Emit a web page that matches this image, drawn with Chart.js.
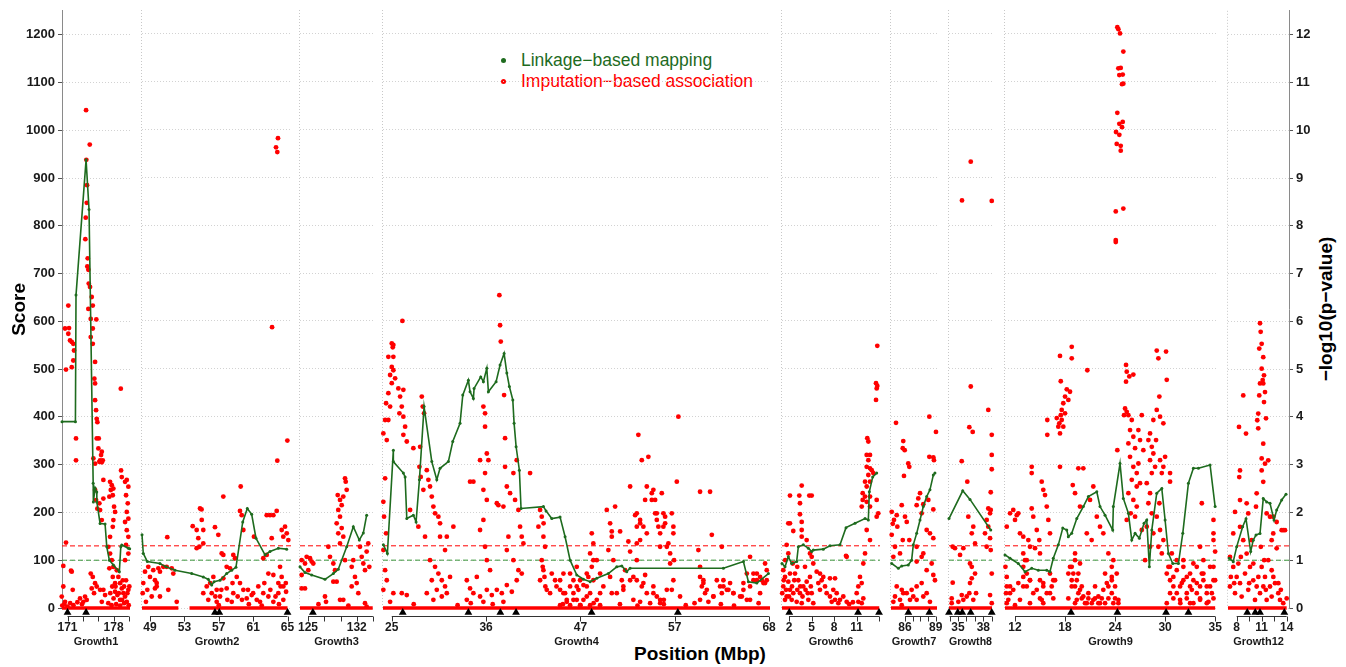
<!DOCTYPE html>
<html>
<head>
<meta charset="utf-8">
<script src="https://cdn.jsdelivr.net/npm/chart.js@4.4.1/dist/chart.umd.min.js"></script>
<style>
  html, body { margin: 0; padding: 0; background: #fff; }
  #wrap { position: relative; width: 1346px; height: 667px; overflow: hidden; font-family: "Liberation Sans", Arial, sans-serif; }
  .panel { position: absolute; top: 0; height: 667px; }
  .legend { position: absolute; left: 501px; top: 50px; font-size: 17.5px; line-height: 21px; }
  .legend div { white-space: nowrap; }
  .legend .dot { display: inline-block; width: 5px; height: 5px; border-radius: 50%; margin-right: 15px; vertical-align: middle; position: relative; top: -1px; }
  .xtitle { position: absolute; left: 580px; width: 240px; top: 643px; text-align: center; font-weight: bold; font-size: 19px; line-height: 22px; }
  .y2title { position: absolute; left: 1326px; top: 309px; transform: translate(-50%, -50%) rotate(-90deg); font-weight: bold; font-size: 19px; white-space: nowrap; }
</style>
</head>
<body>
<div id="wrap">
  <div class="legend">
    <div style="color:#1e6b1e"><span class="dot" style="background:#1e6b1e"></span>Linkage−based mapping</div>
    <div style="color:#ff0000"><span class="dot" style="background:#ff0000"></span>Imputation−based association</div>
  </div>
  <div class="xtitle">Position (Mbp)</div>
  <div class="y2title">−log10(p−value)</div>
</div>
<script>
// ---- data ----
const panelNames = ['Growth1', 'Growth2', 'Growth3', 'Growth4', 'Growth6', 'Growth7', 'Growth8', 'Growth9', 'Growth12'];
const xRanges = [[170.16, 180.5], [48.07, 65.52], [123.85, 134.34], [24.0, 68.1], [1.07, 14.1], [84.63, 89.13], [33.93, 39.03], [10.85, 35.1], [6.96, 14.28]];
const tickValues = [
  [171, 173.33, 175.67, 178, 180.33],
  [49, 53, 57, 61, 65],
  [125, 127.33, 129.67, 132, 134.33],
  [25, 35.75, 46.5, 57.25, 68],
  [2, 5, 8, 11, 14],
  [86, 86.75, 87.5, 88.25, 89],
  [34, 35, 36, 37, 38, 39],
  [12, 17.75, 23.5, 29.25, 35],
  [8, 9.5, 11, 12.5, 14]
];
const tickLabels = [
  ['171', '', '', '178', ''],
  ['49', '53', '57', '61', '65'],
  ['125', '', '', '132', ''],
  ['25', '36', '47', '57', '68'],
  ['2', '5', '8', '11', ''],
  ['86', '', '', '', '89'],
  ['', '35', '', '', '38', ''],
  ['12', '18', '24', '30', '35'],
  ['8', '', '11', '', '14']
];
const scoreTicks = [0, 100, 200, 300, 400, 500, 600, 700, 800, 900, 1000, 1100, 1200];
const pvalTicks = [0, 1, 2, 3, 4, 5, 6, 7, 8, 9, 10, 11, 12];
const linkThreshold = 100;
const assocThreshold = 130;

// positions of black triangles (Mbp)
const markers = [
  [171.0, 173.82],
  [56.56, 57.06, 65.0],
  [125.7],
  [26.25, 33.73, 37.37, 39.16, 47.77, 57.6],
  [2.04, 11.18, 13.97],
  [86.33, 88.38],
  [33.93, 34.97, 35.5, 36.5, 39.0],
  [18.44, 23.77, 29.36, 31.93],
  [9.27, 10.23, 10.8, 13.72]
];

// stretches of SNPs sitting at score 0
const zeroSpans = [
  [[170.16, 180.5]],
  [[48.07, 52.3], [53.6, 65.0]],
  [[123.85, 134.3]],
  [[24.0, 68.1]],
  [[1.07, 14.0]],
  [[84.63, 89.13]],
  [[33.93, 39.03]],
  [[10.85, 35.0]],
  [[6.96, 14.0]]
];

// linkage-based mapping (green)
const g1Link = [[170.16,390],[172.2,390],[172.29,655],[173.82,938],[174.27,834],[174.9,261],[174.93,222],[175.19,251],[175.44,243],[175.46,222],[175.95,177],[176.71,176],[176.97,128],[177.36,100],[177.97,90],[178.88,76],[179.1,128],[179.25,132],[180.25,125],[180.45,124]];
const g2Link = [[48.07,153],[48.22,114],[48.69,97],[50.16,93],[50.86,86],[51.91,79],[53.85,72],[55.2,65],[55.78,60],[56.18,48],[56.45,55],[57.15,58],[57.92,72],[58.51,79],[59.0,85],[59.79,180],[60.32,208],[60.83,196],[61.33,146],[62.38,111],[62.96,118],[63.93,125],[64.9,123]];
const g3Link = [[123.85,86],[124.57,74],[125.53,69],[127.44,60],[128.64,72],[129.35,81],[130.56,128],[131.51,170],[132.37,142],[132.95,157],[133.43,194]];
const g4Link = [[24.04,132],[24.5,114],[25.18,330],[25.18,306],[26.32,282],[26.52,274],[26.71,187],[27.46,194],[27.77,180],[28.15,268],[28.68,421],[29.56,306],[30.13,268],[30.5,292],[31.45,306],[31.95,348],[32.78,386],[33.09,445],[33.73,476],[33.92,452],[34.3,438],[34.38,459],[35.14,483],[35.44,473],[35.83,501],[36.01,452],[36.89,473],[37.34,508],[37.8,532],[38.11,491],[38.4,463],[38.79,435],[38.94,386],[39.17,337],[39.54,288],[39.73,208],[42.28,212],[42.58,203],[43.23,187],[44.18,190],[44.75,149],[45.32,100],[46.08,69],[46.84,60],[47.6,55],[48.36,62],[49.68,72],[50.64,86],[51.21,88],[51.78,76],[52.16,83],[62.79,83],[65.07,97],[65.64,55],[66.6,52],[67.92,72]];
const g6Link = [[1.07,93],[1.47,86],[1.91,107],[2.36,93],[3.02,97],[3.24,128],[3.9,132],[4.57,125],[5.02,118],[5.23,121],[6.56,123],[7.45,130],[8.78,132],[9.58,168],[10.78,177],[12.11,187],[12.55,184],[12.68,243],[13.13,274],[13.66,282]];
const g7Link = [[84.7,93],[85.35,83],[85.68,88],[86.32,90],[86.65,100],[86.81,132],[87.14,156],[87.47,184],[87.79,212],[88.12,233],[88.44,247],[88.77,278],[88.93,282]];
const g8Link = [[33.93,187],[35.56,245],[36.42,227],[38.88,163]];
const g9Link = [[10.85,111],[11.43,104],[12.38,93],[13.15,76],[13.92,83],[14.68,79],[15.65,79],[16.02,76],[16.4,104],[16.98,132],[17.49,167],[17.95,163],[18.13,149],[18.52,156],[19.1,187],[19.85,212],[20.43,233],[21.4,243],[21.77,212],[22.35,194],[23.23,163],[23.3,212],[24.07,302],[24.45,229],[25.03,198],[25.42,142],[25.8,156],[26.29,146],[26.83,177],[27.14,184],[27.44,86],[27.72,163],[28.29,240],[28.87,250],[29.25,184],[29.63,114],[30.13,93],[30.78,93],[31.28,156],[31.93,261],[32.5,292],[33.08,292],[34.42,299],[35.0,212]];
const g12Link = [[7.11,104],[7.59,97],[8.0,128],[8.72,170],[9.12,187],[9.68,118],[9.99,142],[10.32,153],[10.8,156],[11.19,229],[11.6,222],[12.0,219],[12.48,184],[12.8,205],[13.4,226],[13.92,238]];

// imputation-based association (red), score = 100 x -log10(p)
const g1Assoc = [[171.12,633],[170.62,585],[171.23,586],[171.12,574],[171.64,557],[171.38,560],[171.88,553],[171.99,539],[171.88,518],[171.64,504],[170.77,499],[172.29,355],[172.29,309],[170.77,137],[170.36,88],[171.53,78],[171.79,38],[170.36,45],[170.12,24],[170.62,13],[171.64,76],[170.2,5],[170.5,8],[171.0,3],[171.4,10],[171.9,6],[172.5,12],[172.9,20],[173.2,8],[173.4,13],[173.66,24],[173.92,17],
  [173.82,1042],[174.38,970],[173.86,938],[173.97,885],[173.92,848],[173.77,817],[173.71,772],[174.07,732],[174.01,715],[174.17,708],[174.23,679],[174.42,672],[174.68,651],[174.84,633],[174.17,626],[174.53,605],[175.38,604],[174.84,585],[174.53,567],[174.84,553],[175.19,515],[175.08,480],[175.19,470],[175.19,435],[175.34,414],[175.44,396],[175.75,355],[176.21,327],[175.95,309],[176.1,320],[176.21,305],[175.54,389],[175.44,355],[174.93,313],[175.19,302],[175.69,334],[175.84,306],[176.36,309],[176.45,268],[175.19,247],[175.34,226],[175.54,208],[175.95,205],[175.84,219],[176.45,229],[176.21,184],
  [174.53,72],[174.84,65],[175.19,52],[175.44,45],[174.68,41],[175.95,38],[175.03,31],[176.45,38],[176.71,27],[176.21,13],
  [177.47,264],[177.73,257],[177.58,247],[177.88,236],[177.36,233],[177.97,250],[178.08,212],[178.23,201],[177.97,184],[177.88,170],[177.47,149],[177.21,128],[177.47,114],[177.73,100],[177.97,86],[177.36,83],[177.88,65],[178.23,52],[179.14,288],[179.25,274],[179.75,264],[180.01,268],[180.25,254],[179.9,236],[180.16,219],[180.01,201],[180.25,187],[179.75,180],[180.01,163],[180.25,149],[179.9,132],[180.25,114],[179.75,100],[179.1,459],[178.49,79],[178.73,65],[178.99,52],[179.25,41],[179.49,31],[178.58,27],[178.99,17],[179.75,24],[180.25,38],[180.01,13],[179.4,58],[178.23,34],[178.4,8],[179.0,5],[179.6,10],[180.3,6],[177.2,10],[177.7,6],
  [178.0,20],[178.3,45],[178.8,31],[179.3,17],[179.6,45],[179.9,58],[180.1,31],[180.4,45],[177.5,31],[177.8,45]];
const g2Assoc = [[63.89,982],[63.66,963],[63.81,953],[63.2,587],[64.98,350],[63.81,308],[59.55,254],[57.53,233],
  [53.97,171],[54.43,163],[55.02,184],[55.2,163],[54.62,146],[54.74,128],[55.2,135],[54.43,125],[54.82,208],[55.0,206],
  [56.56,169],[56.95,153],[59.47,203],[59.67,194],[59.86,163],[61.1,149],[62.58,194],[62.96,194],[63.35,194],[63.74,203],[64.71,170],[64.91,156],[64.51,149],[65.09,142],[64.32,163],[63.16,146],[62.58,111],[62.18,104],[58.69,111],[58.89,104],[57.34,114],[57.53,111],[57.92,86],[58.31,83],[62.77,72],[63.35,69],[64.13,86],[64.32,65],[63.93,52],[64.51,45],[64.83,34],[51.01,148],
  [48.42,76],[49.0,65],[49.58,58],[49.78,45],[50.16,76],[48.22,52],[48.69,38],[49.58,41],[49.2,24],[50.94,86],[51.53,83],[51.71,72],[50.55,86],[51.13,38],[52.11,13],[50.16,24],[48.8,86],[49.38,79],[49.97,83],[48.15,31],[48.53,13],[49.78,52],
  [55.6,45],[56.18,31],[55.78,17],[56.76,38],[57.15,24],[57.92,41],[58.69,31],[59.47,52],[59.86,38],[60.25,20],[60.83,27],[61.42,17],[62.18,31],[62.77,24],[63.35,13],[63.93,31],[64.51,17],[56.37,65],[57.53,62],[59.09,65],[61.8,13],[58.51,13],[56.76,13],[55.2,31],[60.5,8],[62.0,5],[57.0,6],[64.0,8],
  [56.0,52],[56.6,24],[57.3,38],[58.0,17],[58.6,52],[59.2,24],[59.7,17],[60.4,38],[61.0,31],[61.6,45],[62.3,52],[63.0,38],[63.6,24],[64.2,45],[64.8,52]];
const g3Assoc = [[124.09,100],[124.57,93],[125.04,79],[125.53,97],[125.29,104],[124.09,69],[124.81,107],[125.76,93],[124.57,41],[124.09,41],[127.92,128],[128.16,107],[128.64,93],[128.88,79],[128.64,55],[129.12,55],[127.44,24],[127.59,13],[129.27,236],[129.6,226],[130.07,233],[130.56,247],[130.32,271],[130.42,264],[129.84,215],[129.35,205],[129.6,191],[129.12,177],[129.84,167],[129.35,156],[130.07,149],[129.6,135],[130.32,100],[129.6,17],[130.07,17],[131.51,100],[131.28,86],[131.75,65],[132.0,52],[131.28,45],[132.23,31],[132.47,128],[132.72,107],[132.95,93],[133.19,79],[133.43,118],[133.66,135],[133.81,86],[133.19,10],[133.43,3],[126.5,8],[130.8,5]];
const g4Assoc = [[37.26,654],[37.34,591],[37.42,557],[26.21,600],
  [25.0,553],[25.18,550],[25.11,545],[24.61,525],[25.18,525],[25.0,504],[25.18,497],[24.81,487],[25.38,480],[25.0,470],[24.61,449],[24.35,428],[24.81,421],[24.24,393],[24.61,393],[25.75,459],[26.32,456],[25.95,442],[26.14,421],[26.32,400],[25.87,407],[26.52,379],[26.32,362],[26.71,348],[24.04,365],[24.43,351],[24.24,271],[24.04,222],[24.12,191],[24.35,156],[24.04,121],[24.24,79],[24.43,58],[24.04,38],
  [28.42,442],[28.53,421],[28.68,407],[28.99,288],[29.17,268],[29.36,254],[28.23,337],[28.15,295],[28.3,274],[28.6,247],[29.56,233],[29.74,212],[29.93,198],[30.31,191],[30.5,177],[27.46,334],[27.09,205],[28.03,170],[28.79,149],[30.5,149],
  [29.36,100],[29.93,86],[30.31,72],[30.7,58],[31.07,45],[29.56,58],[30.13,38],[31.27,31],[31.64,65],[28.99,31],[30.7,24],[29.74,17],[26.14,31],[26.71,27],[25.18,31],[24.81,13],[32.02,170],[31.27,149],[31.07,121],
  [33.92,264],[34.3,264],[35.44,421],[35.63,407],[35.63,379],[35.83,323],[36.01,309],[35.06,309],[35.63,282],[35.44,247],[35.83,226],[35.44,184],[35.06,163],[35.63,128],[35.83,100],[36.2,79],
  [36.97,219],[37.72,212],[37.91,295],[38.11,254],[38.48,240],[38.86,282],[39.24,309],[39.05,226],[39.43,205],[39.62,170],[39.81,149],[40.0,135],[38.29,149],[38.11,121],[38.86,100],[39.43,79],[37.91,355],[37.8,445],[37.15,215],
  [33.55,58],[33.92,41],[34.3,31],[34.69,65],[35.06,24],[35.83,38],[36.4,27],[36.97,38],[37.54,31],[38.11,48],[38.68,34],[39.24,58],[39.81,72],[33.55,17],[35.44,13],[37.72,13],[40.76,282],
  [41.9,205],[42.09,191],[41.71,170],[42.28,149],[42.47,128],[42.09,100],[42.28,79],[41.9,58],[42.66,38],[43.23,72],[43.61,58],[43.04,31],
  [44.18,38],[44.75,31],[45.32,45],[45.7,58],[46.27,38],[46.84,48],[47.4,65],[47.79,86],[47.6,114],[47.97,135],[47.79,156],[47.22,24],[46.08,17],[44.94,13],[48.36,100],[48.74,72],[49.11,45],
  [43.77,45],[44.18,58],[44.56,31],[44.94,17],[45.32,72],[45.7,31],[46.08,45],[46.46,58],[46.84,17],[47.22,72],[47.6,31],[47.97,58],[48.36,17],[48.74,31],[44.18,6],[45.32,6],[46.46,6],[47.6,6],[48.74,6],[44.56,72],[46.08,86],[47.22,45],[45.7,17],[47.97,100],[42.3,177],[42.2,86],[42.4,65],[42.5,45],
  [49.5,205],[49.88,177],[50.07,149],[49.68,121],[50.25,100],[50.45,212],[49.88,65],[50.64,31],[51.39,45],
  [50.07,160],[51.02,160],[51.96,139],[52.16,118],[51.59,79],[52.16,58],[52.92,58],[53.49,45],[54.06,31],[51.39,38],[50.07,31],[51.21,58],[52.53,17],[53.3,13],[54.44,10],[53.87,69],[52.92,135],[53.3,177],[53.67,170],[54.06,156],[52.92,198],[53.3,184],[54.63,240],[54.63,226],[55.01,198],[55.2,184],[55.58,156],[55.95,198],[56.15,177],[57.09,156],[56.34,128],[56.72,93],[57.09,58],[56.34,38],[55.2,24],[55.58,10],[54.81,45],[56.0,17],
  [52.16,254],[52.73,194],[52.92,170],[53.1,362],[53.49,309],[54.24,316],[54.06,254],[53.87,226],[53.3,142],[52.92,100],[52.53,65],[53.67,52],[54.81,247],[55.01,226],[55.2,198],[55.38,170],[55.58,128],[55.95,170],[55.77,240],[56.15,191],[54.81,31],[55.58,17],
  [56.91,198],[57.09,170],[56.52,135],[56.72,114],[57.17,100],[57.48,264],[57.66,400],[56.91,38],[57.85,24],
  [60.13,243],[61.27,243],[61.47,153],[59.94,121],[60.13,86],[60.51,58],[60.9,38],[61.65,24],
  [60.13,65],[60.51,52],[60.33,45],[60.7,31],[60.13,17],[62.41,45],[62.79,58],[63.18,38],[63.55,52],[62.61,31],[63.93,31],[64.69,24],[65.46,17],[66.21,72],[66.6,58],[66.97,65],[67.35,52],[67.73,58],[65.83,45],[66.97,31],[67.54,93],[65.07,52],[61.65,24],[61.08,13],
  [62.61,128],[62.04,58],[62.79,45],[63.36,38],[63.93,31],[64.89,24],[65.07,38],[65.46,72],[65.83,107],[66.21,58],[66.6,72],[67.17,58],[67.54,52],[67.73,79],[65.83,17],
  [44.5,8],[46.5,6],[48.0,10],[51.0,8],[53.0,5],[56.0,8],[58.5,6],[59.5,10],[62.5,8],[64.0,5],[66.8,10],[27.5,8],[32.5,6],[34.0,10],[36.5,8]];
const g6Assoc = [[13.74,548],[13.57,470],[13.74,464],[13.66,459],[13.57,435],[12.41,355],[12.55,348],[12.33,320],[12.77,320],[12.55,309],[12.33,295],[12.77,292],[13.0,288],[13.21,282],[12.55,278],[12.11,264],[12.77,264],[12.33,254],[11.8,240],[12.11,233],[12.77,233],[11.8,226],[12.33,222],[11.67,212],[12.77,212],[13.66,191],[12.33,163],[12.77,142],[12.11,114],[11.88,93],[11.44,65],[11.67,52],[11.22,45],[11.0,31],[11.88,20],[11.22,13],[11.67,10],[13.66,226],[13.87,198],
  [3.69,256],[2.13,235],[3.37,235],[4.7,235],[5.02,235],[3.46,219],[3.46,196],[1.91,177],[2.13,177],[2.57,161],[3.69,180],[3.69,163],[3.69,149],[4.35,142],[1.69,132],[1.91,114],[4.79,114],[5.02,107],[5.23,93],[9.58,109],
  [1.24,79],[1.47,65],[1.91,55],[1.24,45],[2.13,38],[2.57,31],[1.69,24],[2.36,17],[3.02,13],[3.46,31],[3.9,45],[4.35,55],[4.79,65],[4.13,86],[2.8,72],[3.24,58],[2.13,72],[1.47,17],[1.1,31],[3.69,10],[4.57,17],[5.02,31],[5.23,10],
  [1.3,58],[1.6,38],[2.0,24],[2.4,45],[2.7,58],[3.1,38],[3.5,45],[3.8,24],[4.2,38],[4.5,31],[4.9,45],[1.5,100],[2.5,93],[3.1,86],
  [5.68,76],[6.12,72],[6.35,58],[6.56,65],[5.9,52],[6.79,45],[6.12,38],[7.45,62],[8.12,62],[9.67,107],
  [7.01,31],[7.45,24],[7.89,38],[8.34,31],[8.78,17],[9.22,24],[9.67,13],[7.68,13],[8.12,17],[8.56,10],[10.0,8],[10.5,12]];
const g7Assoc = [[85.12,387],[88.38,400],[89.03,368],[85.83,349],[85.78,334],[85.97,330],[86.32,302],[86.42,295],[85.9,276],[88.38,316],[88.77,315],[88.83,309],[87.47,240],[87.3,229],[87.14,215],[87.79,217],[87.63,198],[88.77,206],[88.28,226],[84.7,201],[85.19,194],[84.92,184],[84.8,176],[85.25,170],[85.68,215],[86.0,191],[86.17,180],[84.7,153],[85.02,128],[85.51,114],[84.86,107],[85.78,142],[86.42,142],[87.14,128],[87.79,114],[88.44,156],[88.77,146],[88.12,163],[87.14,97],[87.63,107],[88.61,93],[88.12,79],[88.77,69],[88.93,58],[85.19,45],[85.68,38],[86.17,31],[86.65,38],[86.81,24],[87.14,45],[87.63,52],[85.02,24],[85.51,17],[85.83,31],[86.49,17],[87.14,17],[87.79,24],[88.12,31],[88.44,13],[85.68,6],[84.86,13]];
const g8Assoc = [[36.51,933],[35.47,852],[39.0,851],[36.51,463],[38.59,414],[36.34,378],[36.74,368],[39.0,362],[39.0,320],[39.0,290],[35.44,307],[36.1,264],[38.88,242],[38.59,208],[38.88,205],[38.8,198],[38.4,184],[38.59,170],[38.2,156],[38.8,146],[38.4,128],[38.88,121],[36.22,191],[36.81,170],[36.63,156],[37.02,135],[36.42,93],[36.63,86],[37.02,72],[36.63,62],[36.42,52],[36.34,31],[37.14,31],[36.03,24],[36.81,17],[35.44,27],[35.63,17],[34.37,128],[34.64,125],[35.63,125],[35.24,111],[34.37,53],[34.25,20],[35.04,13],[34.25,10],[38.8,27],[39.0,72],[39.0,10]];
const g9Assoc = [[23.76,1214],[23.88,1210],[24.07,1201],[24.45,1163],[23.88,1128],[24.15,1129],[23.99,1114],[24.38,1115],[24.3,1095],[24.45,1096],[23.76,1035],[24.38,1016],[23.99,1012],[24.3,1005],[23.61,995],[23.99,989],[23.69,970],[24.15,966],[24.15,956],[23.58,829],[24.45,835],[23.58,769],[23.58,765],
  [18.52,546],[18.52,522],[17.17,527],[17.26,474],[17.95,457],[18.32,452],[17.75,442],[18.13,435],[17.55,428],[17.37,414],[17.75,407],[17.37,393],[17.09,386],[16.98,379],[17.55,379],[17.17,365],[17.26,403],[16.8,397],[15.71,393],[15.71,362],[17.17,295],[13.92,295],[13.92,282],[20.31,497],[19.28,292],[19.85,292],[18.64,257],[23.76,330],
  [24.76,508],[24.84,494],[25.14,484],[24.76,473],[25.6,488],[24.65,417],[24.84,410],[25.03,403],[24.53,403],[25.42,393],[25.22,372],[25.6,358],[25.03,344],[25.8,334],[25.22,316],[25.6,295],[25.99,282],[25.42,268],[25.99,254],[25.03,240],[25.6,226],[25.3,198],[25.8,191],[24.84,184],[26.57,403],[26.18,372],[26.37,351],[26.75,330],[26.18,302],[26.37,261],[25.99,212],[26.57,163],
  [28.29,538],[28.48,522],[29.36,536],[29.44,477],[28.59,442],[28.29,414],[27.9,393],[28.21,351],[27.52,365],[27.33,351],[27.72,337],[27.9,323],[27.52,309],[28.1,295],[27.72,282],[28.67,309],[29.05,295],[28.87,282],[29.25,316],[28.67,400],[29.05,386],[27.14,261],[27.52,240],[27.33,219],[27.72,198],[27.14,170],[27.9,156],[27.52,128],[26.95,100],
  [11.05,170],[11.43,198],[11.8,205],[12.2,194],[12.38,198],[12.0,184],[15.07,264],[15.25,247],[15.45,236],[15.65,212],[15.83,184],[16.02,156],[13.92,208],[14.1,191],[14.5,163],[14.79,142],[14.3,125],[14.87,114],[13.53,142],[13.15,100],[12.95,149],[12.57,156],
  [10.9,86],[11.05,65],[11.43,45],[10.97,31],[11.23,17],[11.8,38],[12.38,52],[12.95,65],[13.35,45],[13.72,58],[14.1,31],[14.5,38],[15.07,17],[15.65,31],[16.22,45],[16.6,58],[12.57,17],[13.72,10],[15.25,52],[12.0,6],
  [11.05,45],[11.43,31],[12.95,86],[13.35,72],[13.72,58],[12.95,45],[14.87,58],[15.25,45],[16.02,72],[16.4,58],[16.02,31],[11.05,10],[14.87,20],[16.4,20],[15.25,10],[13.35,100],[12.95,114],[13.72,128],
  [18.32,86],[18.7,72],[19.1,58],[18.52,45],[19.47,38],[19.85,24],[20.43,31],[21.0,17],[21.58,24],[22.15,38],[22.55,52],[23.12,65],[23.5,45],[23.88,17],[19.1,17],[21.77,10],[20.25,10],[23.3,10],[18.9,114],[19.47,93],
  [18.13,72],[18.52,58],[18.9,45],[19.28,31],[18.13,20],[18.9,10],[19.67,20],[20.05,10],[20.43,20],[20.82,10],[21.2,20],[21.58,10],[21.97,20],[22.35,10],[22.73,20],[23.12,31],[23.5,20],[23.88,10],[18.52,86],[19.28,72],[18.9,100],[22.73,45],[23.12,58],[22.35,72],[19.67,45],[21.2,45],
  [18.9,240],[19.47,212],[20.25,156],[20.81,142],[21.4,191],[21.77,170],[22.15,156],[20.62,226],[21.0,254],[22.73,114],[23.3,100],[23.69,72],[23.12,86],
  [29.63,86],[30.2,65],[30.59,79],[31.17,52],[31.74,65],[32.32,38],[32.89,52],[33.47,72],[34.04,45],[34.62,31],[35.0,58],[29.82,31],[30.97,17],[32.12,10],[33.27,17],[34.23,13],[31.35,100],[32.5,93],[33.65,100],[34.81,86],[30.02,114],[33.27,128],[34.81,142],[33.47,219],[34.81,184],[34.81,156],[35.0,118],[29.82,282],[29.82,264],[28.59,219],[28.29,191],[28.67,163],[29.05,142],[28.48,128],[28.87,114],
  [29.44,72],[29.82,58],[30.2,45],[30.59,31],[30.97,45],[31.35,58],[31.74,31],[32.12,45],[32.5,58],[32.89,31],[33.27,45],[33.65,58],[34.04,31],[34.42,45],[34.81,58],[29.82,86],[30.59,100],[31.35,86],[32.12,72],[32.89,86],[33.65,72],[34.42,86],[30.2,20],[31.0,10],[31.74,20],[32.5,10],[33.27,20],[34.04,10],[34.81,20],[29.44,10]];
const g12Assoc = [[10.8,596],[10.88,578],[11.0,553],[10.71,543],[11.19,525],[11.0,501],[11.28,487],[11.12,477],[11.19,470],[11.4,452],[10.8,470],[10.71,445],[11.28,431],[11.52,397],[10.59,407],[10.47,393],[10.59,376],[11.19,344],[11.0,313],[11.4,302],[11.79,309],[11.0,288],[11.19,264],[8.79,445],[8.28,379],[9.12,365],[8.4,288],[8.31,274],[8.4,226],[7.8,201],[9.2,219],[9.39,198],[10.4,240],[10.32,212],[11.6,198],[12.0,191],[12.39,191],[12.8,180],[13.4,163],[12.39,156],[12.2,142],[12.8,125],[13.8,163],[13.59,163],
  [7.2,107],[7.59,86],[8.0,65],[8.4,52],[9.0,72],[9.6,86],[9.99,58],[10.4,45],[11.0,86],[11.4,65],[11.79,100],[12.2,79],[12.6,52],[12.99,31],[7.2,45],[7.8,31],[8.6,24],[9.39,38],[10.2,17],[10.8,31],[11.6,17],[12.2,24],[13.2,17],[13.59,10],[14.0,20],[9.2,114],[8.79,142],[9.8,142],[7.59,156],[8.4,170],
  [7.3,65],[7.7,52],[8.2,93],[8.5,107],[9.5,52],[10.0,93],[10.6,65],[11.2,45],[11.5,38],[12.0,45],[12.4,65],[13.0,52],[13.3,38],[10.9,128],[11.3,100]];

const linkData = [g1Link, g2Link, g3Link, g4Link, g6Link, g7Link, g8Link, g9Link, g12Link];
const assocData = [g1Assoc, g2Assoc, g3Assoc, g4Assoc, g6Assoc, g7Assoc, g8Assoc, g9Assoc, g12Assoc];

// ---- layout ----
const W = 1346, H = 667;
const PLOT_TOP = 10, AXIS_H = 59, LEFT_AXIS_W = 62, RIGHT_AXIS_W = 57, SIDE = 24;
const panelBox = [[62, 130], [142, 292], [300, 373], [383, 770], [782, 880], [891, 937], [949, 992], [1005, 1216], [1228, 1289]];
const MARK_Y = -9.4;   // triangles sit just under the zero line

const RED = '#ff0000', GREEN = '#1e6b1e', DASH_GREEN = '#3a953a';
const FONT = "'Liberation Sans', Arial, Helvetica, sans-serif";
Chart.defaults.font.family = FONT;
Chart.defaults.color = '#1a1a1a';

const panelFrame = {
  id: 'panelFrame',
  beforeDatasetsDraw(chart, args, opts) {
    if (!opts.leftRule) return;
    const { ctx, chartArea } = chart;
    ctx.save();
    ctx.strokeStyle = '#c8c8c8';
    ctx.lineWidth = 1;
    ctx.setLineDash([1, 2]);
    ctx.beginPath();
    ctx.moveTo(chartArea.left - 0.5, chartArea.top);
    ctx.lineTo(chartArea.left - 0.5, chartArea.bottom);
    ctx.stroke();
    ctx.restore();
  },
  afterDraw(chart) {
    const { ctx, chartArea } = chart;
    const sx = chart.scales.x;
    const px = sx.ticks.map(t => sx.getPixelForValue(t.value));
    const y0 = Math.round(chartArea.bottom + 8) + 0.5;
    ctx.save();
    ctx.strokeStyle = '#333';
    ctx.lineWidth = 1;
    ctx.beginPath();
    ctx.moveTo(px[0], y0);
    ctx.lineTo(px[px.length - 1], y0);
    px.forEach(x => { ctx.moveTo(Math.round(x) + 0.5, y0); ctx.lineTo(Math.round(x) + 0.5, y0 + 5); });
    ctx.stroke();
    ctx.restore();
  }
};

const wrap = document.getElementById('wrap');

panelNames.forEach((name, i) => {
  const first = i === 0;
  const last = i === panelNames.length - 1;
  const [bl, br] = panelBox[i];
  const left = first ? 0 : bl - SIDE;
  const right = last ? W : br + SIDE;
  const width = right - left;

  const div = document.createElement('div');
  div.className = 'panel';
  div.style.left = left + 'px';
  div.style.width = width + 'px';
  const cv = document.createElement('canvas');
  cv.width = width;
  cv.height = H;
  div.appendChild(cv);
  wrap.appendChild(div);

  const [xmin, xmax] = xRanges[i];
  const band = [];
  zeroSpans[i].forEach(([a, b]) => { band.push([a, 0], [b, 0], [b, null]); });

  const scales = {
    x: {
      type: 'linear',
      position: 'bottom',
      min: xmin,
      max: xmax,
      afterBuildTicks: s => { s.ticks = tickValues[i].map(v => ({ value: v })); },
      afterFit: s => { s.height = AXIS_H; },
      border: { display: false },
      grid: { display: false, drawTicks: false },
      ticks: {
        autoSkip: false,
        maxRotation: 0,
        padding: 12,
        color: '#1a1a1a',
        font: { size: 12, weight: 'bold' },
        callback: (v, idx) => tickLabels[i][idx]
      },
      title: {
        display: true,
        text: name,
        color: '#1a1a1a',
        font: { size: 11, weight: 'bold' },
        padding: { top: 0, bottom: 18 }
      }
    },
    y: {
      type: 'linear',
      position: 'left',
      min: 0,
      max: 1250,
      afterBuildTicks: s => { s.ticks = scoreTicks.map(v => ({ value: v })); },
      afterFit: s => { s.width = first ? LEFT_AXIS_W : 0; },
      border: { display: first, color: '#8a8a8a', width: 1, dash: [1, 2] },
      grid: { color: '#d2d2d2', lineWidth: 1, drawTicks: first, tickLength: 4, tickColor: '#555', tickBorderDash: [] },
      ticks: { display: first, padding: 3, color: '#1a1a1a', font: { size: 13, weight: 'bold' }, callback: v => String(v) },
      title: { display: first, text: 'Score', color: '#000', font: { size: 19, weight: 'bold' }, padding: { top: 8 } }
    }
  };
  if (last) {
    scales.y2 = {
      type: 'linear',
      position: 'right',
      min: 0,
      max: 12.5,
      afterBuildTicks: s => { s.ticks = pvalTicks.map(v => ({ value: v })); },
      afterFit: s => { s.width = RIGHT_AXIS_W; },
      border: { display: true, color: '#8a8a8a', width: 1 },
      grid: { drawOnChartArea: false, drawTicks: true, tickLength: 4, tickColor: '#555' },
      ticks: { padding: 3, color: '#1a1a1a', font: { size: 13, weight: 'bold' }, callback: v => String(v) }
    };
  }

  new Chart(cv, {
    type: 'scatter',
    data: {
      datasets: [
        {
          label: 'Markers',
          data: markers[i].map(m => [m, MARK_Y]),
          pointStyle: 'triangle',
          pointRadius: 4.5,
          pointBackgroundColor: '#000',
          pointBorderColor: '#000',
          pointBorderWidth: 0,
          showLine: false,
          clip: false
        },
        {
          label: 'Linkage−based mapping',
          data: linkData[i],
          showLine: true,
          borderColor: GREEN,
          borderWidth: 1.6,
          pointRadius: 1.5,
          pointBackgroundColor: GREEN,
          pointBorderWidth: 0,
          clip: false
        },
        {
          label: 'Imputation−based association',
          data: assocData[i],
          showLine: false,
          pointRadius: 2.4,
          pointBackgroundColor: RED,
          pointBorderWidth: 0,
          clip: false
        },
        {
          label: 'p ≈ 1',
          data: band,
          showLine: true,
          borderColor: RED,
          borderWidth: 3.5,
          pointRadius: 0,
          spanGaps: false,
          clip: false
        },
        {
          label: 'Association threshold',
          data: [[xmin, assocThreshold], [xmax, assocThreshold]],
          showLine: true,
          borderColor: RED,
          borderWidth: 1,
          borderDash: [5, 3],
          pointRadius: 0
        },
        {
          label: 'Linkage threshold',
          data: [[xmin, linkThreshold], [xmax, linkThreshold]],
          showLine: true,
          borderColor: DASH_GREEN,
          borderWidth: 1,
          borderDash: [5, 3],
          pointRadius: 0
        }
      ]
    },
    options: {
      responsive: false,
      animation: false,
      events: [],
      layout: { autoPadding: false, padding: { top: PLOT_TOP, bottom: 0, left: first ? 0 : SIDE, right: last ? 0 : SIDE } },
      plugins: {
        legend: { display: false },
        tooltip: { enabled: false },
        panelFrame: { leftRule: !first }
      },
      scales
    },
    plugins: [panelFrame]
  });
});
</script>
</body>
</html>
